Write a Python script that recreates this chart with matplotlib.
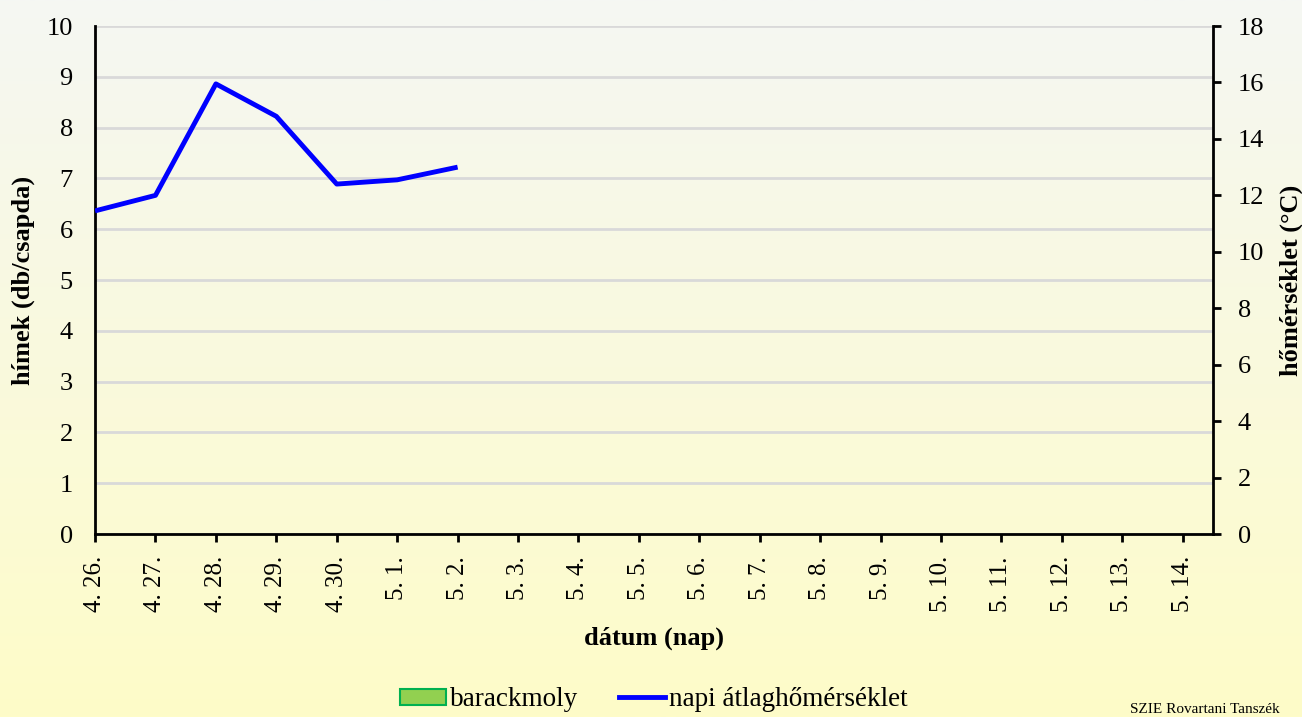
import numpy as np
import matplotlib.pyplot as plt
from matplotlib.patches import Patch
from matplotlib.lines import Line2D

plt.rcParams['font.family'] = ['Liberation Serif', 'DejaVu Serif']

# adatok
dates = ['4. 26.', '4. 27.', '4. 28.', '4. 29.', '4. 30.', '5. 1.', '5. 2.', '5. 3.', '5. 4.',
         '5. 5.', '5. 6.', '5. 7.', '5. 8.', '5. 9.', '5. 10.', '5. 11.', '5. 12.', '5. 13.', '5. 14.']
temp = [11.45, 12.0, 15.95, 14.8, 12.4, 12.55, 13.0]  # napi átlaghőmérséklet (°C)

fig = plt.figure(figsize=(13.02, 7.17), dpi=100)

# háttér színátmenet
bg = fig.add_axes([0, 0, 1, 1], zorder=-10)
grad = np.linspace(0, 1, 256).reshape(-1, 1)
top_c = np.array([245, 247, 243]) / 255
bot_c = np.array([254, 252, 200]) / 255
img = top_c * (1 - grad[..., None]) + bot_c * grad[..., None]
bg.imshow(img, aspect='auto', extent=[0, 1, 0, 1])
bg.axis('off')

ax = fig.add_axes([0.073, 0.2552, 0.8586, 0.7085])
ax.patch.set_alpha(0)
ax.set_xlim(0, 18.5)
ax.set_ylim(0, 10)
ax.set_yticks(range(0, 11))
ax.yaxis.grid(True, color='#d9d9d9', linewidth=2)
ax.set_axisbelow(True)
ax.tick_params(axis='y', length=0, labelsize=19, pad=16)
ax.set_xticks(range(len(dates)))
ax.set_xticklabels(dates, rotation=90, fontsize=18)
ax.tick_params(axis='x', direction='out', length=6, width=2, pad=10)
for s in ['left', 'bottom']:
    ax.spines[s].set_linewidth(2)
ax.spines['top'].set_visible(False)
ax.spines['right'].set_visible(False)
ax.set_ylabel('hímek (db/csapda)', fontsize=19, fontweight='bold', labelpad=8)
ax.set_xlabel('dátum (nap)', fontsize=19, fontweight='bold', labelpad=10)

ax2 = ax.twinx()
ax2.set_ylim(0, 18)
ax2.set_yticks(range(0, 19, 2))
ax2.tick_params(axis='y', direction='out', length=6, width=2, labelsize=19, pad=12)
ax2.spines['right'].set_linewidth(2)
ax2.spines['top'].set_visible(False)
ax2.spines['left'].set_visible(False)
ax2.spines['bottom'].set_visible(False)
ax2.set_ylabel('hőmérséklet (°C)', fontsize=19, fontweight='bold', labelpad=11)
ax2.plot(range(len(temp)), temp, color='#0000ff', linewidth=3.5, solid_capstyle='butt')

handles = [Patch(facecolor='#92d050', edgecolor='#00b050', linewidth=1.5),
           Line2D([0], [0], color='#0000ff', linewidth=3.5)]
fig.legend(handles, ['barackmoly', 'napi átlaghőmérséklet'], loc='center',
           bbox_to_anchor=(0.502, 0.024), ncol=2, frameon=False, fontsize=19.5,
           handlelength=1.7, handleheight=0.55, handletextpad=0.15, columnspacing=1.5,
           borderpad=0)

fig.text(0.868, 0.002, 'SZIE Rovartani Tanszék', fontsize=11, va='bottom', ha='left')

fig.savefig('out.png', dpi=100)
